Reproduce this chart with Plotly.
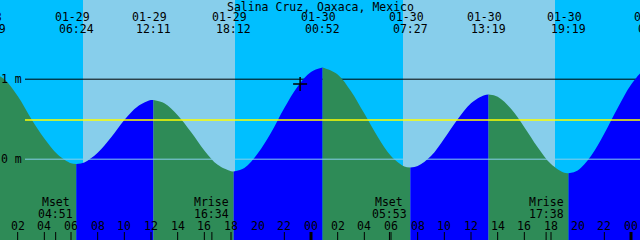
import plotly.graph_objects as go

# ---------------- data ----------------
TITLE = "Salina Cruz, Oaxaca, Mexico"

# hourly tide heights (m); hour 0 = 01-29 00:00
hours = list(range(0, 50))
heights = [1.09, 1.00, 0.79, 0.51, 0.26, 0.06, -0.05,
           -0.04, 0.08, 0.27, 0.49, 0.66, 0.74,
           0.70, 0.55, 0.34, 0.11, -0.07, -0.15,
           -0.11, 0.07, 0.33, 0.64, 0.91, 1.09,
           1.14, 1.06, 0.85, 0.57, 0.28, 0.04, -0.09,
           -0.085, 0.04, 0.26, 0.50, 0.70, 0.80,
           0.78, 0.63, 0.40, 0.15, -0.06, -0.17,
           -0.14, 0.04, 0.32, 0.64, 0.93, 1.12]

# high / low tide events
ext_date = ["01-28", "01-29", "01-29", "01-29", "01-30", "01-30", "01-30", "01-30", "01-31"]
ext_time = ["23:49", "06:24", "12:11", "18:12", "00:52", "07:27", "13:19", "19:19", "01:50"]
ext_height = [1.09, -0.06, 0.74, -0.155, 1.145, -0.105, 0.808, -0.175, 1.18]

# sun (day shading)
sunrise_date = ["01-29", "01-30"]
sunrise_time = ["06:54", "06:54"]
sunset_date = ["01-29", "01-30"]
sunset_time = ["18:18", "18:18"]

# moon events
moon_label = ["Mset", "Mrise", "Mset", "Mrise"]
moon_date = ["01-29", "01-29", "01-30", "01-30"]
moon_time = ["04:51", "16:34", "05:53", "17:38"]

# current-time marker
now_date, now_time, now_height = "01-29", "23:11", 0.94

# axis ticks (hours) and labels
tick_hours = [2, 4, 6, 8, 10, 12, 14, 16, 18, 22, 24,
              26, 28, 30, 32, 34, 36, 38, 40, 42, 46, 48]
label_hours = list(range(2, 49, 2))
label_text = ["%02d" % (h % 24) for h in label_hours]

depth_lines = [1.0, 0.0]
depth_labels = ["1 m", "0 m"]
mean_level = 0.49

X_RANGE = [0.675, 48.675]
Y_RANGE = [-1.01, 1.99]

# ---------------- helpers ----------------
DAY0 = {"01-28": -24, "01-29": 0, "01-30": 24, "01-31": 48}


def to_hours(d, t):
    hh, mm = t.split(":")
    return DAY0[d] + int(hh) + int(mm) / 60.0


ext_hours = [to_hours(d, t) for d, t in zip(ext_date, ext_time)]

NIGHT = "#00BFFF"
DAY = "#87CEEB"
RISE = "#0000FF"
FALL = "#2E8B57"
FONT = dict(family="DejaVu Sans Mono", size=11.5, color="black")
W, H = 640, 240

fig = go.Figure()

# tide fill, one segment per rise / fall
BASE = -1.5
for i in range(len(ext_hours) - 1):
    a, b = ext_hours[i], ext_hours[i + 1]
    xs = [a] + [h for h in hours if a < h < b] + [b]
    ys = [ext_height[i]] + [v for h, v in zip(hours, heights) if a < h < b] + [ext_height[i + 1]]
    color = RISE if ext_height[i + 1] > ext_height[i] else FALL
    fig.add_trace(go.Scatter(x=[a, b], y=[BASE, BASE], mode="lines",
                             line=dict(width=0), hoverinfo="skip", showlegend=False))
    fig.add_trace(go.Scatter(x=xs, y=ys, mode="lines", fill="tonexty", fillcolor=color,
                             line=dict(width=0, shape="spline", smoothing=1),
                             hoverinfo="skip", showlegend=False))

# current time marker
fig.add_trace(go.Scatter(x=[to_hours(now_date, now_time)], y=[now_height], mode="markers",
                         marker=dict(symbol="cross-thin", size=10,
                                     line=dict(width=1.5, color="black")),
                         hoverinfo="skip", showlegend=False))

shapes = []
# daylight
for rd, rt, sd, st in zip(sunrise_date, sunrise_time, sunset_date, sunset_time):
    shapes.append(dict(type="rect", xref="x", yref="paper",
                       x0=to_hours(rd, rt), x1=to_hours(sd, st), y0=0, y1=1,
                       fillcolor=DAY, line=dict(width=0), layer="below"))
LX0 = 25 / W
# 1 m line (under the water)
shapes.append(dict(type="line", xref="paper", yref="y", x0=LX0, x1=1,
                   y0=depth_lines[0], y1=depth_lines[0],
                   line=dict(color="black", width=1), layer="below"))
# mean level & datum (over the water)
shapes.append(dict(type="line", xref="paper", yref="y", x0=LX0, x1=1,
                   y0=mean_level, y1=mean_level,
                   line=dict(color="#FFFF00", width=1.5), layer="above"))
shapes.append(dict(type="line", xref="paper", yref="y", x0=LX0, x1=1,
                   y0=depth_lines[1], y1=depth_lines[1],
                   line=dict(color=DAY, width=1), layer="above"))
# hour ticks
TL = 8 / H
for h in tick_hours:
    shapes.append(dict(type="line", xref="x", yref="paper", x0=h, x1=h, y0=0, y1=TL,
                       line=dict(color="black", width=3 if h % 24 == 0 else 1),
                       layer="above"))
for d, t in zip(moon_date, moon_time):
    mh = to_hours(d, t)
    shapes.append(dict(type="line", xref="x", yref="paper", x0=mh, x1=mh, y0=0, y1=TL,
                       line=dict(color="black", width=1), layer="above"))

ann = []


def py(px):
    return 1 - px / H


def xpaper(h):
    return (h - X_RANGE[0]) / (X_RANGE[1] - X_RANGE[0])


ann.append(dict(text=TITLE, xref="paper", yref="paper", x=0.5, y=py(6.5),
                showarrow=False, font=FONT, xanchor="center", yanchor="middle"))
for d, t, eh in zip(ext_date, ext_time, ext_hours):
    ann.append(dict(text=d, xref="paper", yref="paper", x=xpaper(eh), y=py(17), xshift=-4,
                    showarrow=False, font=FONT, xanchor="center", yanchor="middle"))
    ann.append(dict(text=t, xref="paper", yref="paper", x=xpaper(eh), y=py(29),
                    showarrow=False, font=FONT, xanchor="center", yanchor="middle"))
for lab, d, t in zip(moon_label, moon_date, moon_time):
    mh = to_hours(d, t)
    ann.append(dict(text=lab, xref="x", yref="paper", x=mh, y=py(202),
                    showarrow=False, font=FONT, xanchor="center", yanchor="middle"))
    ann.append(dict(text=t, xref="x", yref="paper", x=mh, y=py(213.5),
                    showarrow=False, font=FONT, xanchor="center", yanchor="middle"))
for h, s in zip(label_hours, label_text):
    ann.append(dict(text=s, xref="x", yref="paper", x=h, y=py(225.5),
                    showarrow=False, font=FONT, xanchor="center", yanchor="middle"))
for v, s in zip(depth_lines, depth_labels):
    ann.append(dict(text=s, xref="paper", yref="y", x=0, y=v, xshift=-1,
                    showarrow=False, font=FONT, xanchor="left", yanchor="middle"))

fig.update_layout(
    width=W, height=H, margin=dict(l=0, r=0, t=0, b=0),
    paper_bgcolor=NIGHT, plot_bgcolor=NIGHT,
    xaxis=dict(range=X_RANGE, visible=False, fixedrange=True),
    yaxis=dict(range=Y_RANGE, visible=False, fixedrange=True),
    shapes=shapes, annotations=ann, showlegend=False,
)
fig.write_html("out.html", config={"displayModeBar": False})
